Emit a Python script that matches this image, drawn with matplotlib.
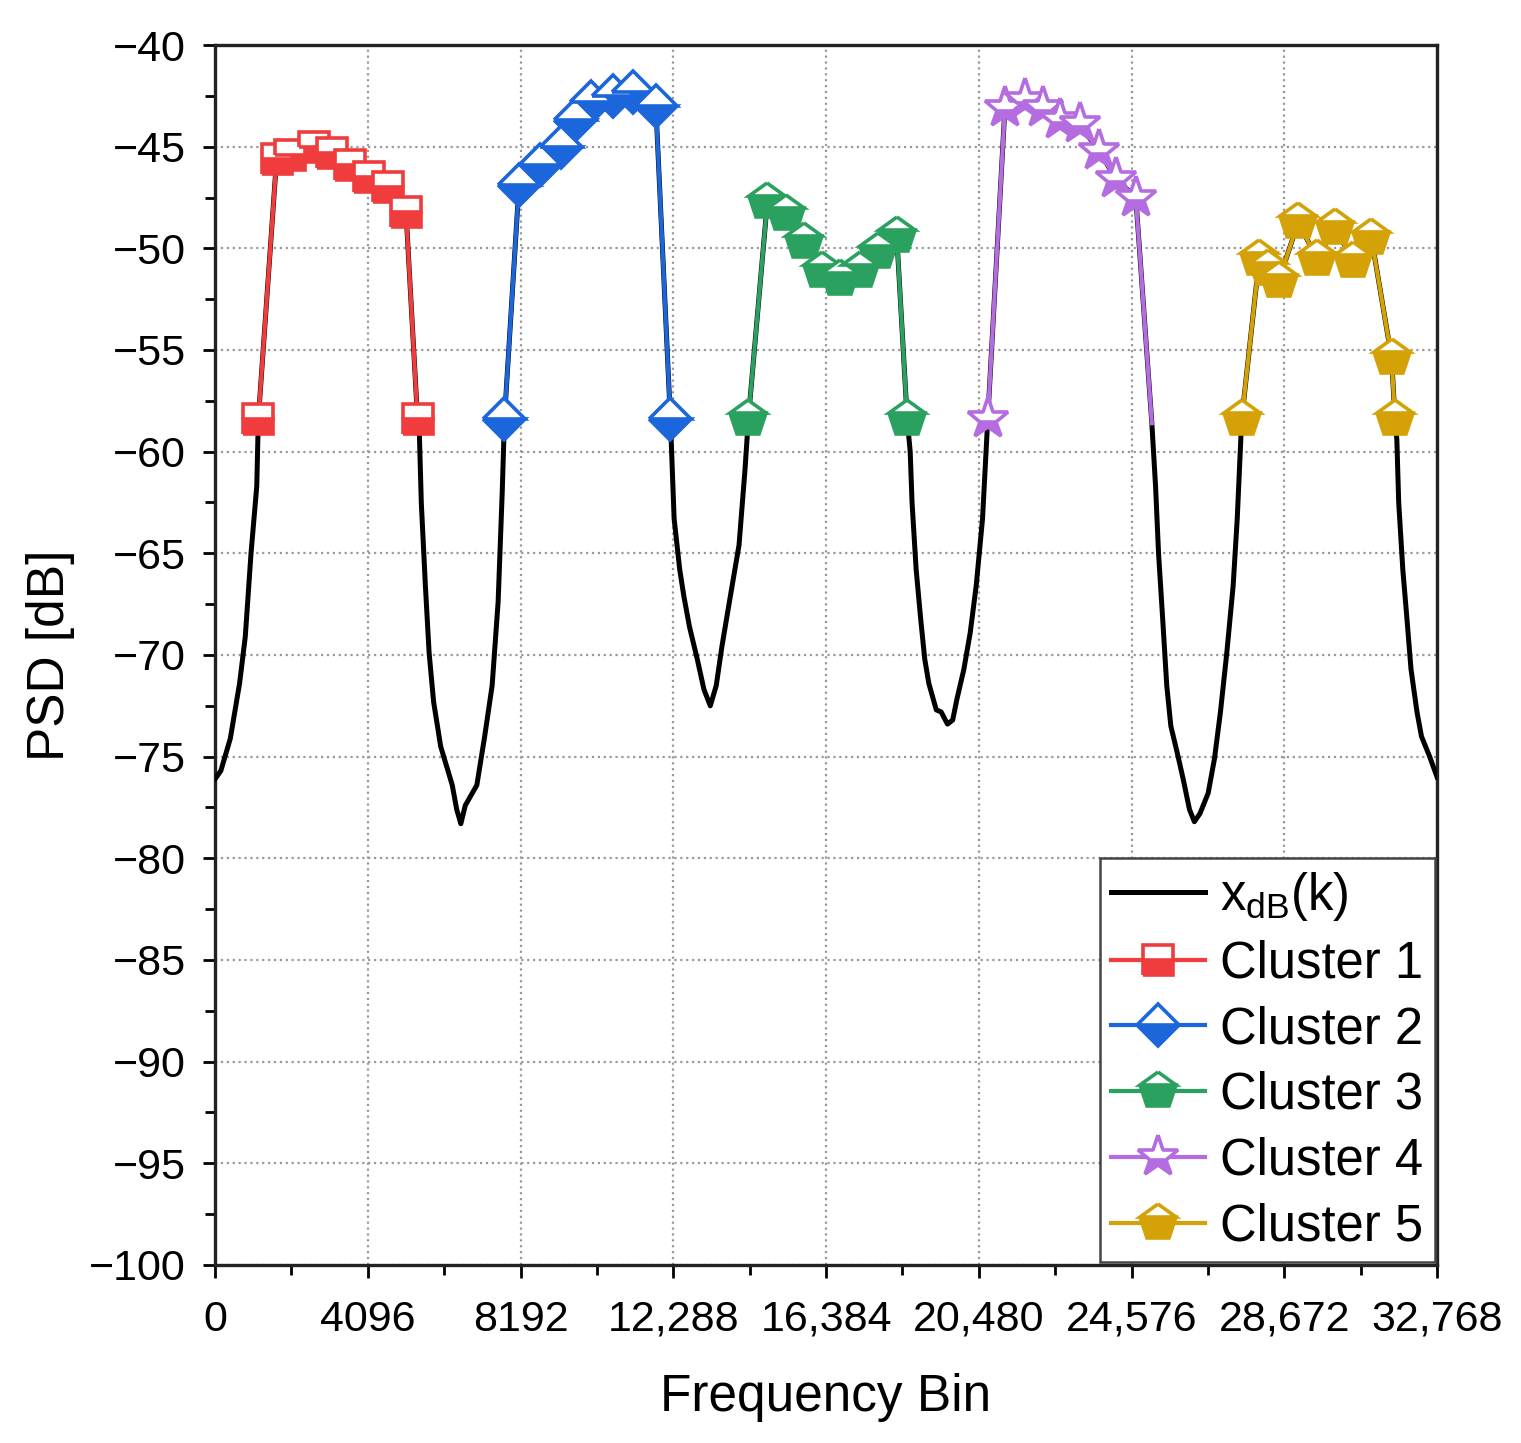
import numpy as np
import matplotlib
matplotlib.use('Agg')
import matplotlib.pyplot as plt

plt.rcParams['font.family'] = ['Liberation Sans', 'DejaVu Sans']

# black PSD curve between the clusters (frequency bin, dB)
gap1_k = [0, 154, 410, 657, 810, 964, 1118]
gap1_db = [-76.1, -75.7, -74.1, -71.4, -69.1, -65.0, -61.7]
gap2_k = [5480, 5530, 5640, 5740, 5860, 6050, 6360, 6480, 6590, 6710, 7020, 7230, 7430, 7590, 7700]
gap2_db = [-59.2, -62.5, -66.6, -69.9, -72.3, -74.5, -76.4, -77.6, -78.3, -77.4, -76.4, -74.0, -71.5, -67.4, -62.0]
gap3_k = [12310, 12460, 12570, 12720, 12930, 13110, 13280, 13440, 13590, 13800, 14050, 14210]
gap3_db = [-63.3, -65.8, -67.1, -68.6, -70.2, -71.7, -72.5, -71.5, -69.6, -67.3, -64.6, -60.9]
gap4_k = [18640, 18690, 18800, 18920, 19030, 19140, 19340, 19470, 19640, 19780, 19890, 20080, 20250, 20410, 20580]
gap4_db = [-60.0, -62.5, -65.8, -68.2, -70.2, -71.4, -72.7, -72.8, -73.4, -73.2, -72.2, -70.7, -68.9, -66.6, -63.3]
gap5_k = [25220, 25300, 25410, 25520, 25630, 25800, 25960, 26130, 26260, 26410, 26630, 26800, 26960, 27130, 27300, 27410]
gap5_db = [-61.7, -65.0, -68.2, -71.5, -73.5, -74.8, -76.1, -77.6, -78.2, -77.8, -76.8, -75.1, -72.8, -69.9, -66.6, -63.3]
gap6_k = [31690, 31740, 31850, 31960, 32070, 32230, 32350, 32570, 32768]
gap6_db = [-59.4, -62.5, -65.8, -68.2, -70.7, -72.8, -74.0, -75.0, -76.0]

# cluster points
c1_k = [1160, 1650, 2020, 2640, 3140, 3620, 4140, 4630, 5120, 5430]
c1_db = [-58.4, -45.6, -45.4, -45.0, -45.3, -45.9, -46.5, -47.0, -48.2, -58.4]
c2_k = [7760, 8150, 8700, 9270, 9650, 10070, 10660, 11200, 11820, 12210]
c2_db = [-58.4, -46.9, -45.9, -45.0, -43.7, -42.8, -42.5, -42.3, -43.0, -58.4]
c3_k = [14300, 14810, 15320, 15800, 16270, 16760, 17290, 17780, 18280, 18560]
c3_db = [-58.4, -47.7, -48.3, -49.7, -51.1, -51.5, -51.1, -50.2, -49.4, -58.4]
c4_k = [20720, 21180, 21710, 22200, 22650, 23190, 23690, 24170, 24690, 25120]
c4_db = [-58.4, -43.1, -42.7, -43.1, -43.7, -43.9, -45.2, -46.6, -47.5, -58.6]
c5_k = [27530, 28000, 28240, 28520, 29050, 29540, 30040, 30510, 31010, 31550, 31640]
c5_db = [-58.4, -50.5, -51.0, -51.6, -48.7, -50.5, -49.0, -50.6, -49.5, -55.4, -58.4]

xticks = [0, 4096, 8192, 12288, 16384, 20480, 24576, 28672, 32768]
xtick_labels = ['0', '4096', '8192', '12,288', '16,384', '20,480', '24,576', '28,672', '32,768']

k_all = gap1_k + c1_k + gap2_k + c2_k + gap3_k + c3_k + gap4_k + c4_k + gap5_k + c5_k + gap6_k
db_all = gap1_db + c1_db + gap2_db + c2_db + gap3_db + c3_db + gap4_db + c4_db + gap5_db + c5_db + gap6_db

fig = plt.figure(figsize=(15.21, 14.43), dpi=100)
ax = fig.add_axes([0.1414, 0.1234, 0.8034, 0.8454])

# full spectrum underneath, clusters drawn on top of it
ax.plot(k_all, db_all, color='black', lw=3.6, label=r'$\mathregular{x_{dB}(k)}$', zorder=3)

clusters = [
    (c1_k, c1_db, '#F03C3C', 's', 21, 'Cluster 1'),
    (c2_k, c2_db, '#1C66DC', 'D', 21, 'Cluster 2'),
    (c3_k, c3_db, '#2BA160', 'p', 27, 'Cluster 3'),
    (c4_k, c4_db, '#B46CE0', '*', 31, 'Cluster 4'),
    (c5_k, c5_db, '#D4A106', 'p', 27, 'Cluster 5'),
]
for k, db, col, mk, ms, name in clusters:
    # last point of cluster 4 has no visible marker
    every = list(range(len(k) - 1)) if name == 'Cluster 4' else None
    ax.plot(k, db, color=col, lw=3.0, marker=mk, ms=ms, fillstyle='bottom',
            markerfacecolor=col, markerfacecoloralt='white', markeredgecolor=col,
            markeredgewidth=2.6, markevery=every, label=name, zorder=4)

ax.set_xlim(0, 32768)
ax.set_ylim(-100, -40)
ax.set_xticks(xticks)
ax.set_xticklabels(xtick_labels)
ax.set_xticks(np.arange(2048, 32768, 4096), minor=True)
ax.set_yticks(np.arange(-100, -39, 5))
ax.set_yticks(np.arange(-97.5, -40, 5), minor=True)
ax.tick_params(axis='both', which='major', direction='out', length=9, width=2, labelsize=31)
ax.tick_params(axis='x', which='major', pad=16)
ax.tick_params(axis='y', which='major', pad=12)
ax.tick_params(axis='both', which='minor', direction='out', length=7, width=2)

ax.grid(True, which='major', color='#999999', linestyle=':', linewidth=1.6)
for sp in ax.spines.values():
    sp.set_linewidth(2.4)
    sp.set_color('#222222')

ax.set_xlabel('Frequency Bin', fontsize=37, labelpad=24)
ax.set_ylabel('PSD [dB]', fontsize=37, labelpad=10)

leg = ax.legend(loc='lower right', fontsize=36.5, frameon=True, fancybox=False,
                framealpha=1, edgecolor='#444444', borderaxespad=0.05, borderpad=0.22,
                handlelength=1.85, handletextpad=0.3, labelspacing=0.33)
leg.get_frame().set_linewidth(1.8)

fig.savefig('out.png', dpi=100)
